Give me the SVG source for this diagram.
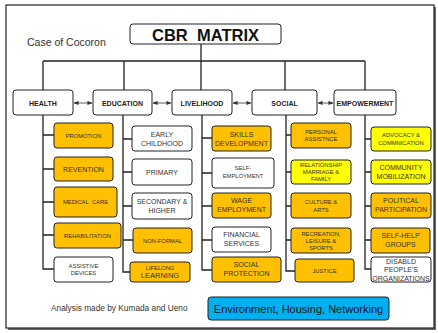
<svg xmlns="http://www.w3.org/2000/svg" width="438" height="333" viewBox="0 0 438 333">
<defs>
<marker id="ah" viewBox="0 0 6 6" refX="5.5" refY="3" markerWidth="5" markerHeight="5" orient="auto-start-reverse" markerUnits="userSpaceOnUse"><path d="M0,0.5 L6,3 L0,5.5 z" fill="#333"/></marker>
</defs>
<style>
text{font-family:"Liberation Sans",Arial,sans-serif;fill:#333;text-anchor:middle}
.b{stroke:#222;stroke-width:1}
.o{fill:#ffc000}
.y{fill:#ffff00}
.w{fill:#fff}
.cat{fill:#fff;stroke:#222;stroke-width:1}
.ct{font-weight:bold;font-size:7px;fill:#222}
.ln{fill:none;stroke:#222;stroke-width:1.3}
.s5{font-size:5.8px}
.s6{font-size:7px}
.s7{font-size:7.5px}
</style>
<rect x="0" y="0" width="438" height="333" fill="#fff"/>
<rect x="8" y="7" width="428" height="323" fill="#666"/>
<rect x="6" y="5" width="428" height="323" fill="#fff" stroke="#222" stroke-width="1.2"/>

<g id="title">
<rect x="130" y="24" width="151" height="20" rx="3" fill="#fff" stroke="#222" stroke-width="1"/>
<text x="205.5" y="40.5" style="font-size:16.5px;font-weight:bold;fill:#111">CBR&#160;&#160;MATRIX</text>
</g>
<text x="27" y="45.5" style="font-size:10.5px;text-anchor:start">Case of Cocoron</text>

<g id="connectors">
<path class="ln" d="M201,44 V90 M43,61 H365 M43,61 V90 M124,61 V90 M285,61 V90 M365,61 V90"/>
<path class="ln" d="M43,115 V269 H54 M43,135 H54 M43,169 H54 M43,202 H54 M43,235 H54"/>
<path class="ln" d="M123,115 V272 H130 M123,139 H132 M123,172 H132 M123,206 H132 M123,240 H133"/>
<path class="ln" d="M202,115 V270 H212 M202,138 H212 M202,173 H212 M202,206 H212 M202,240 H212"/>
<path class="ln" d="M286,115 V271 H295 M286,135 H291 M286,172 H291 M286,206 H291 M286,240 H291"/>
<path class="ln" d="M365,115 V269 H371 M365,139 H371 M365,172 H371 M365,206 H371 M365,240 H371"/>
<g stroke="#333" stroke-width="0.8" marker-start="url(#ah)" marker-end="url(#ah)">
<line x1="74" y1="103" x2="92" y2="103"/>
<line x1="153" y1="103" x2="171" y2="103"/>
<line x1="233" y1="103" x2="251" y2="103"/>
<line x1="318" y1="103" x2="333" y2="103"/>
</g>
</g>

<g id="health"><rect class="cat" x="13" y="90" width="60" height="25" rx="3"/><text class="ct" x="43" y="105.5">HEALTH</text></g>
<g id="education"><rect class="cat" x="93" y="90" width="59" height="25" rx="3"/><text class="ct" x="122.5" y="105.5">EDUCATION</text></g>
<g id="livelihood"><rect class="cat" x="172" y="90" width="60" height="25" rx="3"/><text class="ct" x="202" y="105.5">LIVELIHOOD</text></g>
<g id="social"><rect class="cat" x="252" y="90" width="65" height="25" rx="3"/><text class="ct" x="284.5" y="105.5">SOCIAL</text></g>
<g id="empowerment"><rect class="cat" x="334" y="90" width="62" height="25" rx="3"/><text class="ct" x="365" y="105.5">EMPOWERMENT</text></g>

<g id="promotion"><rect class="b o" x="54" y="123" width="59" height="25" rx="3"/><text class="s5" x="83.5" y="137.5">PROMOTION</text></g>
<g id="revention"><rect class="b o" x="54" y="157" width="59" height="24" rx="3"/><text class="s6" x="83.5" y="171.5">REVENTION</text></g>
<g id="medical-care"><rect class="b o" x="54" y="187" width="63" height="30" rx="3"/><text class="s5" x="85.5" y="203.5">MEDICAL&#160;&#160;CARE</text></g>
<g id="rehabilitation"><rect class="b o" x="54" y="223" width="67" height="25" rx="3"/><text class="s5" x="87.5" y="237.5">REHABILITATION</text></g>
<g id="assistive-devices"><rect class="b w" x="54" y="257" width="59" height="25" rx="3"/><text class="s5" x="83.5" y="267.5">ASSISTIVE</text><text class="s5" x="83.5" y="274.5">DEVICES</text></g>

<g id="early-childhood"><rect class="b w" x="132" y="126" width="60" height="25" rx="3"/><text class="s6" x="162" y="136.5">EARLY</text><text class="s6" x="162" y="145.5">CHILDHOOD</text></g>
<g id="primary"><rect class="b w" x="132" y="159" width="60" height="26" rx="3"/><text class="s6" x="162" y="174.5">PRIMARY</text></g>
<g id="secondary"><rect class="b w" x="132" y="193" width="60" height="26" rx="3"/><text class="s6" x="162" y="203.5">SECONDARY &amp;</text><text class="s6" x="162" y="212.5">HIGHER</text></g>
<g id="non-formal"><rect class="b o" x="133" y="228" width="59" height="25" rx="3"/><text class="s5" x="162.5" y="242.5">NON-FORMAL</text></g>
<g id="lifelong"><rect class="b o" x="130" y="262" width="60" height="20" rx="3"/><text class="s5" x="160" y="269.5">LIFELONG</text><text class="s7" x="160" y="278">LEARNING</text></g>

<g id="skills"><rect class="b o" x="212" y="126" width="59" height="25" rx="3"/><text class="s6" x="241.5" y="136.5">SKILLS</text><text class="s6" x="241.5" y="145.5">DEVELOPMENT</text></g>
<g id="self-employment"><rect class="b w" x="212" y="158" width="62" height="30" rx="3"/><text class="s5" x="243" y="170">SELF-</text><text class="s5" x="243" y="177.5">EMPLOYMENT</text></g>
<g id="wage"><rect class="b o" x="212" y="193" width="59" height="25" rx="3"/><text class="s6" x="241.5" y="203">WAGE</text><text class="s6" x="241.5" y="212">EMPLOYMENT</text></g>
<g id="financial"><rect class="b w" x="212" y="227" width="59" height="25" rx="3"/><text class="s6" x="241.5" y="237">FINANCIAL</text><text class="s6" x="241.5" y="246">SERVICES</text></g>
<g id="social-protection"><rect class="b o" x="212" y="257" width="69" height="25" rx="3"/><text class="s6" x="246.5" y="267">SOCIAL</text><text class="s6" x="246.5" y="276">PROTECTION</text></g>

<g id="personal"><rect class="b o" x="291" y="123" width="60" height="25" rx="3"/><text class="s5" x="321" y="133.5">PERSONAL</text><text class="s5" x="321" y="141">ASSISTNCE</text></g>
<g id="relationship"><rect class="b y" x="291" y="160" width="60" height="24" rx="3"/><text class="s5" x="321" y="166.5">RELATIONSHIP</text><text class="s5" x="321" y="173.5">MARRIAGE &amp;</text><text class="s5" x="321" y="181">FAMILY</text></g>
<g id="culture"><rect class="b o" x="291" y="193" width="60" height="25" rx="3"/><text class="s5" x="321" y="203.5">CULTURE &amp;</text><text class="s5" x="321" y="211.5">ARTS</text></g>
<g id="recreation"><rect class="b o" x="291" y="228" width="60" height="25" rx="3"/><text class="s5" x="321" y="235.5">RECREATION,</text><text class="s5" x="321" y="242.5">LEISURE &amp;</text><text class="s5" x="321" y="250">SPORTS</text></g>
<g id="justice"><rect class="b o" x="295" y="259" width="59" height="23" rx="3"/><text class="s5" x="324.5" y="272.5">JUSTICE</text></g>

<g id="advocacy"><rect class="b y" x="371" y="127" width="60" height="24" rx="3"/><text class="s5" x="401" y="137">ADVOCACY &amp;</text><text class="s5" x="401" y="144.5">COMMNICATION</text></g>
<g id="community"><rect class="b y" x="371" y="160" width="60" height="24" rx="3"/><text class="s6" x="401" y="170">COMMUNITY</text><text class="s6" x="401" y="179">MOBILIZATION</text></g>
<g id="political"><rect class="b o" x="371" y="193" width="60" height="25" rx="3"/><text class="s6" x="401" y="203">POLITICAL</text><text class="s6" x="401" y="212">PARTICIPATION</text></g>
<g id="self-help"><rect class="b o" x="371" y="228" width="59" height="25" rx="3"/><text class="s6" x="400.5" y="238">SELF-HELP</text><text class="s6" x="400.5" y="247">GROUPS</text></g>
<g id="disabled"><rect class="b w" x="371" y="257" width="60" height="25" rx="3"/><text class="s6" x="401" y="263.5">DISABLD</text><text class="s6" x="401" y="272">PEOPLE'S</text><text class="s6" x="401" y="280.5">ORGANIZATIONS</text></g>

<text x="51" y="311" style="font-size:8.3px;text-anchor:start">Analysis made by Kumada and Ueno</text>
<g id="environment"><rect x="208" y="297" width="181" height="23" rx="3" fill="#00b0f0" stroke="#222" stroke-width="1"/><text x="298.5" y="312.5" style="font-size:11px;fill:#111">Environment, Housing, Networking</text></g>
</svg>
